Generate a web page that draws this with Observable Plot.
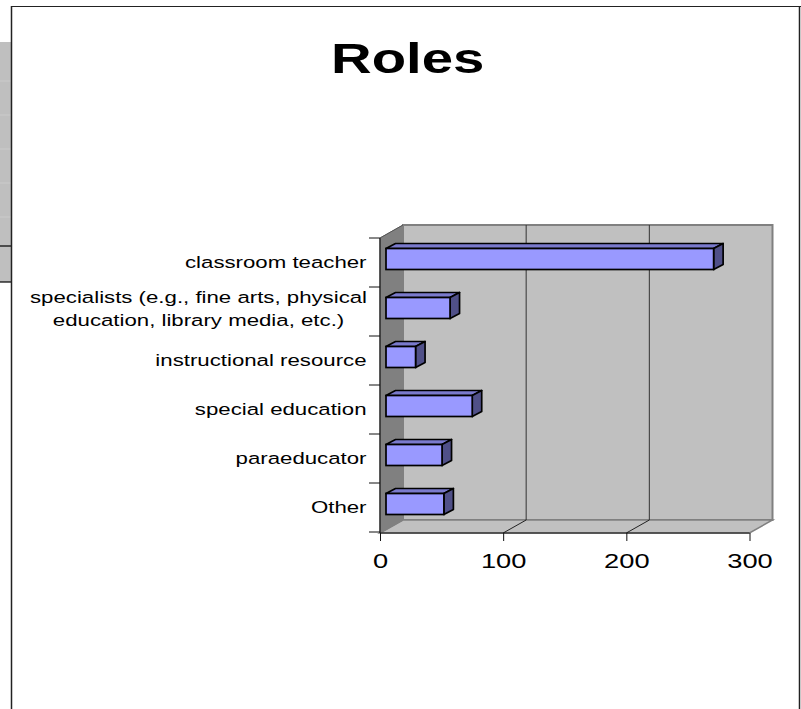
<!DOCTYPE html>
<html>
<head>
<meta charset="utf-8">
<script src="https://cdn.jsdelivr.net/npm/d3@7"></script>
<script src="https://cdn.jsdelivr.net/npm/@observablehq/plot@0.6"></script>
<style>
html,body{margin:0;padding:0;background:#fff;overflow:hidden}
#c{position:relative;width:801px;height:709px}
#t{position:absolute;left:0;width:815px;top:33px;text-align:center;font:bold 42px "Liberation Sans",Arial,sans-serif;color:#000;line-height:52px;transform:scaleX(1.34);transform-origin:407px 0}
svg{display:block}
</style>
</head>
<body>
<div id="c"><div id="t">Roles</div></div>
<script>
const title = "Roles";
const categories = ["classroom teacher","specialists (e.g., fine arts, physical\neducation, library media, etc.)","instructional resource","special education","paraeducator","Other"];
const counts = [266, 52, 24, 70, 45.5, 47];
const xTicks = [0, 100, 200, 300];
const data = categories.map((c,i)=>({role:c,count:counts[i]}));

const wallDX = 23, wallDY = -13;     // 3D depth of the walls
const barDX = 6;                     // bar offset in the floor
const barDepthX = 9.5, barDepthY = -5; // bar extrusion
const insetTop = 10.5, insetBottom = 17.5;

const poly = (g, pts, fill, stroke, sw) => g.append("polygon")
  .attr("points", pts.map(p=>p.join(",")).join(" "))
  .attr("fill", fill).attr("stroke", stroke||"none").attr("stroke-width", sw||0);
const seg = (g, x1,y1,x2,y2, stroke, sw) => g.append("line")
  .attr("x1",x1).attr("y1",y1).attr("x2",x2).attr("y2",y2)
  .attr("stroke",stroke).attr("stroke-width",sw||1);

function chrome(index, scales, values, dim) {
  const g = d3.create("svg:g");
  const W = dim.width, H = dim.height;
  // neighbouring slide panel at left
  g.append("rect").attr("x",0).attr("y",42).attr("width",11).attr("height",240).attr("fill","#bfbfbf");
  [81,115,149,183,217].forEach(y=>seg(g,0,y,11,y,"#cbcbcb",1));
  seg(g,0,246,11,246,"#000",1.2);
  seg(g,0,282,11,282,"#000",1.2);
  // frame
  seg(g,11.5,6,11.5,H,"#222",1.5);
  seg(g,11,6.5,W,6.5,"#222",1);
  seg(g,799.5,6,799.5,H,"#222",1.5);
  return g.node();
}

function walls(index, {x, y}, values, dim) {
  const g = d3.create("svg:g");
  const x0 = x(0), x3 = x(300), yT = y(categories[0]), yB = dim.height - dim.marginBottom;
  poly(g, [[x0+wallDX,yT+wallDY],[x3+wallDX,yT+wallDY],[x3+wallDX,yB+wallDY],[x0+wallDX,yB+wallDY]], "#c0c0c0", "#808080", 2);
  poly(g, [[x0,yB],[x0+wallDX,yB+wallDY],[x3+wallDX,yB+wallDY],[x3,yB]], "#c0c0c0", "#808080", 1.5);
  poly(g, [[x0,yT],[x0+wallDX,yT+wallDY],[x0+wallDX,yB+wallDY],[x0,yB]], "#808080", "#808080", 1);
  // gridlines: back wall + floor
  xTicks.slice(1,3).forEach(v=>{
    seg(g,x(v)+wallDX,yT+wallDY,x(v)+wallDX,yB+wallDY,"#333",1);
    seg(g,x(v),yB,x(v)+wallDX,yB+wallDY,"#222",1);
  });
  // axis lines
  seg(g,x0,yT,x0,yB,"#111",1.2);
  seg(g,x0,yT,x0+wallDX,yT+wallDY,"#555",1);
  seg(g,x0,yB,x3,yB,"#111",1.2);
  // category boundary ticks
  const step = y(categories[1]) - y(categories[0]);
  for (let i=0;i<=categories.length;i++) seg(g,x0-11,yT+i*step,x0,yT+i*step,"#111",1);
  return g.node();
}

function barDepth(index, {x, y}, values) {
  const g = d3.create("svg:g");
  const step = y(categories[1]) - y(categories[0]);
  data.forEach(d=>{
    const l = x(0)+barDX, r = x(d.count)+barDX, t = y(d.role)+insetTop, b = y(d.role)+step-insetBottom;
    poly(g, [[l,t],[l+barDepthX,t+barDepthY],[r+barDepthX,t+barDepthY],[r,t]], "#7a7acc", "#000", 1.7).attr("stroke-linejoin","round");
    poly(g, [[r,t],[r+barDepthX,t+barDepthY],[r+barDepthX,b+barDepthY],[r,b]], "#505088", "#000", 1.7).attr("stroke-linejoin","round");
  });
  return g.node();
}

const fig = Plot.plot({
  width: 801, height: 709,
  marginLeft: 380, marginRight: 51.5, marginTop: 237, marginBottom: 176,
  style: {background:"transparent", fontFamily:'"Liberation Sans",Arial,sans-serif', color:"#000", overflow:"visible"},
  x: {domain:[0,300], label:null},
  y: {domain:categories, padding:0, label:null},
  marks: [
    chrome,
    walls,
    barDepth,
    Plot.barX(data,{x:"count",y:"role",fill:"#9999ff",stroke:"#000",strokeWidth:1.7,dx:barDX,insetTop,insetBottom}),
    Plot.axisX({ticks:xTicks,tickSize:8,tickPadding:12,fontSize:21,label:null,stroke:"#111"}),
    Plot.axisY({tickSize:0,tickPadding:14,fontSize:16.5,lineHeight:1.42,dy:-2.5,label:null})
  ]
});
// the reference's text is stretched horizontally; its two-line label is centred
fig.querySelectorAll('[aria-label="y-axis tick label"] text').forEach(t=>{
  const multi = t.querySelectorAll("tspan").length>1;
  if (multi) t.setAttribute("text-anchor","middle");
  t.setAttribute("transform",(t.getAttribute("transform")||"")+(multi?" translate(-168,-2.5)":"")+" scale(1.347,1)");
});
fig.querySelectorAll('[aria-label="x-axis tick label"] text').forEach(t=>{
  t.setAttribute("transform",(t.getAttribute("transform")||"")+" scale(1.3,1)");
});
fig.style.position="absolute"; fig.style.left="0"; fig.style.top="0";
document.getElementById("c").prepend(fig);
</script>
</body>
</html>
